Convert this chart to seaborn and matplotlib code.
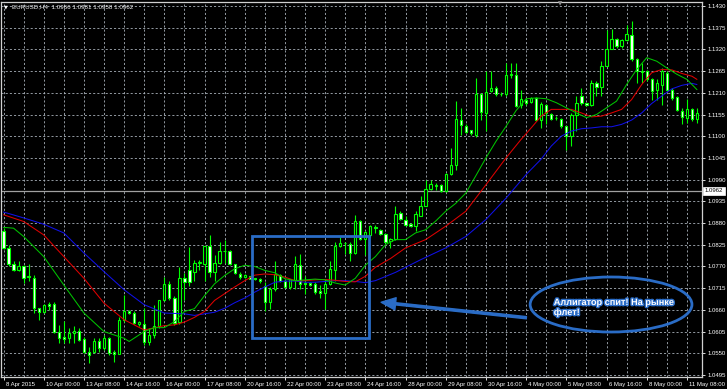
import numpy as np
import pandas as pd
import matplotlib
matplotlib.use("Agg")
import matplotlib.pyplot as plt
import matplotlib.transforms as mtransforms
import matplotlib.patheffects as pe
from matplotlib.patches import Rectangle, Ellipse, FancyArrowPatch
import seaborn as sns

# ---------------- data (EURUSD H4 candles) ----------------
opens = [1.0861, 1.0817, 1.0777, 1.0761, 1.0772, 1.0744, 1.0740, 1.0664, 1.0655, 1.0676,
         1.0675, 1.0603, 1.0590, 1.0588, 1.0601, 1.0607, 1.0586, 1.0554, 1.0554, 1.0580,
         1.0563, 1.0588, 1.0554, 1.0547, 1.0635, 1.0657, 1.0651, 1.0624, 1.0624, 1.0578,
         1.0597, 1.0618, 1.0685, 1.0725, 1.0690, 1.0629, 1.0740, 1.0760, 1.0757, 1.0779,
         1.0777, 1.0822, 1.0756, 1.0778, 1.0810, 1.0808, 1.0777, 1.0751, 1.0743, 1.0745,
         1.0740, 1.0739, 1.0720, 1.0679, 1.0713, 1.0749, 1.0734, 1.0718, 1.0735, 1.0774,
         1.0729, 1.0728, 1.0726, 1.0707, 1.0702, 1.0726, 1.0762, 1.0821, 1.0829, 1.0828,
         1.0805, 1.0884, 1.0840, 1.0850, 1.0870, 1.0863, 1.0853, 1.0834, 1.0839, 1.0905,
         1.0887, 1.0878, 1.0872, 1.0899, 1.0924, 1.0966, 1.0975, 1.0977, 1.0960, 1.1004,
         1.1026, 1.1142, 1.1127, 1.1115, 1.1102, 1.1206, 1.1159, 1.1214, 1.1223, 1.1208,
         1.1206, 1.1254, 1.1254, 1.1178, 1.1193, 1.1186, 1.1197, 1.1142, 1.1180, 1.1157,
         1.1147, 1.1144, 1.1125, 1.1100, 1.1155, 1.1202, 1.1183, 1.1178, 1.1235, 1.1225,
         1.1279, 1.1322, 1.1347, 1.1328, 1.1344, 1.1356, 1.1295, 1.1265, 1.1265, 1.1246,
         1.1216, 1.1231, 1.1261, 1.1218, 1.1200, 1.1163, 1.1146, 1.1168, 1.1144]
highs = [1.0867, 1.0825, 1.0784, 1.0784, 1.0774, 1.0776, 1.0749, 1.0664, 1.0675, 1.0681,
         1.0680, 1.0622, 1.0632, 1.0614, 1.0618, 1.0614, 1.0590, 1.0567, 1.0588, 1.0588,
         1.0596, 1.0592, 1.0558, 1.0643, 1.0698, 1.0660, 1.0656, 1.0632, 1.0664, 1.0615,
         1.0673, 1.0685, 1.0744, 1.0732, 1.0694, 1.0768, 1.0754, 1.0819, 1.0787, 1.0787,
         1.0823, 1.0849, 1.0798, 1.0832, 1.0836, 1.0811, 1.0777, 1.0755, 1.0751, 1.0747,
         1.0742, 1.0740, 1.0730, 1.0718, 1.0783, 1.0751, 1.0739, 1.0739, 1.0796, 1.0802,
         1.0747, 1.0731, 1.0730, 1.0722, 1.0739, 1.0785, 1.0832, 1.0844, 1.0832, 1.0832,
         1.0901, 1.0887, 1.0861, 1.0876, 1.0876, 1.0866, 1.0855, 1.0842, 1.0924, 1.0910,
         1.0897, 1.0880, 1.0910, 1.0949, 1.0990, 1.0990, 1.0982, 1.0980, 1.1007, 1.1070,
         1.1189, 1.1172, 1.1130, 1.1117, 1.1248, 1.1210, 1.1265, 1.1265, 1.1227, 1.1212,
         1.1286, 1.1286, 1.1286, 1.1218, 1.1197, 1.1200, 1.1200, 1.1186, 1.1181, 1.1159,
         1.1151, 1.1147, 1.1127, 1.1159, 1.1202, 1.1223, 1.1185, 1.1242, 1.1240, 1.1290,
         1.1369, 1.1371, 1.1350, 1.1347, 1.1383, 1.1392, 1.1299, 1.1286, 1.1268, 1.1248,
         1.1244, 1.1273, 1.1265, 1.1223, 1.1202, 1.1172, 1.1195, 1.1172, 1.1172]
lows = [1.0815, 1.0770, 1.0758, 1.0758, 1.0728, 1.0734, 1.0652, 1.0635, 1.0653, 1.0660,
        1.0602, 1.0575, 1.0575, 1.0575, 1.0575, 1.0580, 1.0550, 1.0525, 1.0550, 1.0554,
        1.0559, 1.0546, 1.0529, 1.0547, 1.0630, 1.0649, 1.0624, 1.0620, 1.0571, 1.0571,
        1.0588, 1.0615, 1.0683, 1.0685, 1.0621, 1.0624, 1.0684, 1.0720, 1.0734, 1.0760,
        1.0734, 1.0743, 1.0734, 1.0777, 1.0780, 1.0774, 1.0751, 1.0739, 1.0740, 1.0737,
        1.0736, 1.0728, 1.0658, 1.0663, 1.0709, 1.0730, 1.0715, 1.0714, 1.0714, 1.0712,
        1.0701, 1.0720, 1.0701, 1.0690, 1.0663, 1.0723, 1.0732, 1.0819, 1.0802, 1.0785,
        1.0802, 1.0838, 1.0798, 1.0845, 1.0855, 1.0850, 1.0829, 1.0817, 1.0836, 1.0887,
        1.0872, 1.0870, 1.0859, 1.0897, 1.0922, 1.0963, 1.0963, 1.0958, 1.0958, 1.1003,
        1.1015, 1.1104, 1.1108, 1.1102, 1.1098, 1.1141, 1.1113, 1.1212, 1.1202, 1.1203,
        1.1202, 1.1248, 1.1174, 1.1172, 1.1180, 1.1183, 1.1138, 1.1121, 1.1130, 1.1141,
        1.1141, 1.1121, 1.1066, 1.1075, 1.1113, 1.1178, 1.1176, 1.1176, 1.1202, 1.1202,
        1.1278, 1.1320, 1.1324, 1.1324, 1.1341, 1.1290, 1.1235, 1.1235, 1.1240, 1.1193,
        1.1193, 1.1178, 1.1214, 1.1193, 1.1163, 1.1130, 1.1134, 1.1138, 1.1134]
closes = [1.0817, 1.0777, 1.0761, 1.0772, 1.0742, 1.0745, 1.0664, 1.0655, 1.0673, 1.0671,
          1.0603, 1.0588, 1.0586, 1.0601, 1.0607, 1.0584, 1.0554, 1.0546, 1.0580, 1.0563,
          1.0588, 1.0550, 1.0547, 1.0635, 1.0657, 1.0651, 1.0626, 1.0628, 1.0578, 1.0597,
          1.0618, 1.0685, 1.0725, 1.0690, 1.0626, 1.0740, 1.0730, 1.0730, 1.0778, 1.0781,
          1.0822, 1.0756, 1.0778, 1.0809, 1.0808, 1.0777, 1.0754, 1.0743, 1.0749, 1.0739,
          1.0738, 1.0732, 1.0679, 1.0713, 1.0751, 1.0734, 1.0719, 1.0737, 1.0777, 1.0726,
          1.0726, 1.0723, 1.0705, 1.0702, 1.0726, 1.0764, 1.0823, 1.0829, 1.0829, 1.0805,
          1.0884, 1.0840, 1.0857, 1.0872, 1.0868, 1.0853, 1.0831, 1.0839, 1.0904, 1.0889,
          1.0876, 1.0872, 1.0904, 1.0924, 1.0966, 1.0980, 1.0977, 1.0960, 1.1004, 1.1028,
          1.1144, 1.1128, 1.1110, 1.1107, 1.1208, 1.1161, 1.1212, 1.1223, 1.1206, 1.1206,
          1.1254, 1.1257, 1.1176, 1.1195, 1.1185, 1.1196, 1.1142, 1.1182, 1.1159, 1.1144,
          1.1146, 1.1125, 1.1100, 1.1155, 1.1185, 1.1185, 1.1178, 1.1234, 1.1225, 1.1279,
          1.1322, 1.1347, 1.1328, 1.1344, 1.1358, 1.1295, 1.1265, 1.1263, 1.1246, 1.1214,
          1.1234, 1.1265, 1.1218, 1.1197, 1.1166, 1.1149, 1.1168, 1.1144, 1.1159]

# Alligator lines (bar index, price)
jaw_bars = [0, 4, 8, 12, 16, 20, 24, 28, 32, 36, 38, 40, 42, 44, 46, 48, 50, 52, 54, 56,
            58, 60, 62, 64, 66, 68, 70, 72, 74, 78, 83, 88, 92, 96, 100, 104, 107, 109, 111, 113,
            115, 117, 119, 121, 123, 125, 127, 129, 131, 133, 135, 137, 138]
jaw = [1.0908, 1.0893, 1.0877, 1.0855, 1.0804, 1.0757, 1.0711, 1.0673, 1.0652, 1.0650,
       1.0646, 1.0650, 1.0654, 1.0664, 1.0678, 1.0690, 1.0705, 1.0718, 1.0730, 1.0733,
       1.0733, 1.0730, 1.0730, 1.0732, 1.0734, 1.0734, 1.0732, 1.0729, 1.0734, 1.0755,
       1.0787, 1.0817, 1.0846, 1.0889, 1.0943, 1.1003, 1.1042, 1.1075, 1.1100, 1.1113,
       1.1119, 1.1121, 1.1124, 1.1124, 1.1130, 1.1141, 1.1159, 1.1183, 1.1202, 1.1220,
       1.1229, 1.1234, 1.1231]
teeth_bars = [0, 4, 8, 12, 16, 20, 24, 28, 32, 34, 36, 38, 40, 42, 44, 46, 48, 50, 52, 54,
              56, 58, 60, 62, 64, 66, 68, 70, 72, 74, 77, 80, 84, 88, 92, 96, 100, 103, 105, 107,
              109, 111, 113, 115, 117, 119, 121, 123, 125, 127, 129, 131, 133, 135, 137, 138]
teeth = [1.0901, 1.0884, 1.0850, 1.0795, 1.0740, 1.0677, 1.0635, 1.0609, 1.0620, 1.0622,
         1.0629, 1.0641, 1.0656, 1.0684, 1.0701, 1.0718, 1.0734, 1.0748, 1.0751, 1.0749,
         1.0743, 1.0734, 1.0734, 1.0736, 1.0737, 1.0735, 1.0732, 1.0731, 1.0745, 1.0768,
         1.0790, 1.0817, 1.0838, 1.0872, 1.0910, 1.0977, 1.1045, 1.1092, 1.1121, 1.1151,
         1.1168, 1.1168, 1.1168, 1.1159, 1.1149, 1.1151, 1.1159, 1.1168, 1.1193, 1.1231,
         1.1261, 1.1269, 1.1268, 1.1259, 1.1252, 1.1244]
lips_bars = [0, 2, 4, 8, 12, 16, 20, 24, 25, 28, 30, 32, 34, 36, 38, 40, 42, 44, 46, 48,
             50, 52, 54, 56, 58, 60, 62, 64, 66, 68, 70, 72, 74, 76, 78, 80, 82, 84, 86, 88,
             90, 92, 94, 96, 98, 100, 102, 104, 106, 108, 110, 112, 114, 116, 118, 120, 122, 124, 126, 128,
             130, 132, 134, 136, 138]
lips = [1.0869, 1.0867, 1.0846, 1.0795, 1.0723, 1.0652, 1.0605, 1.0588, 1.0580, 1.0605,
        1.0615, 1.0615, 1.0630, 1.0656, 1.0663, 1.0696, 1.0726, 1.0747, 1.0764, 1.0773,
        1.0770, 1.0760, 1.0754, 1.0739, 1.0734, 1.0736, 1.0738, 1.0736, 1.0728, 1.0723,
        1.0740, 1.0773, 1.0795, 1.0825, 1.0838, 1.0838, 1.0855, 1.0863, 1.0885, 1.0910,
        1.0930, 1.0956, 1.1000, 1.1045, 1.1087, 1.1125, 1.1165, 1.1195, 1.1197, 1.1195,
        1.1185, 1.1172, 1.1159, 1.1147, 1.1155, 1.1172, 1.1189, 1.1231, 1.1269, 1.1299,
        1.1290, 1.1273, 1.1257, 1.1244, 1.1218]

x_tick_bars = [0, 8, 16, 24, 32, 40, 48, 56, 64, 72, 80, 88, 96, 104, 112, 120, 128, 136]
x_tick_labels = ["8 Apr 2015", "10 Apr 00:00", "13 Apr 08:00", "14 Apr 16:00", "16 Apr 00:00",
                 "17 Apr 08:00", "20 Apr 16:00", "22 Apr 00:00", "23 Apr 08:00", "24 Apr 16:00",
                 "28 Apr 00:00", "29 Apr 08:00", "30 Apr 16:00", "4 May 00:00", "5 May 08:00",
                 "6 May 16:00", "8 May 00:00", "11 May 08:00"]
y_ticks = [1.0495, 1.0550, 1.0605, 1.0660, 1.0715, 1.0770, 1.0825, 1.0880, 1.0935, 1.0990,
           1.1045, 1.1100, 1.1155, 1.1210, 1.1265, 1.1320, 1.1375, 1.1430]
price_line = 1.0962
title_text = "EURUSD,H4  1.0966 1.0981 1.0958 1.0962"
note_text = "Аллигатор спит! На рынке\nфлет!"

# ---------------- style ----------------
sns.set_theme(style="dark")
plt.rcParams['font.family'] = ['Liberation Sans', 'DejaVu Sans']
plt.rcParams['axes.facecolor'] = 'black'
plt.rcParams['figure.facecolor'] = 'black'

W, H = 727, 389
fig = plt.figure(figsize=(W / 100, H / 100), dpi=100, facecolor='black')
ax = fig.add_axes([1 / W, 12 / H, 701 / W, 375 / H])
ax.set_facecolor('black')

ax.set_xlim(-0.5, 139.0)
ax.set_ylim(1.04899, 1.14401)

GRID = '#a9b1ba'
for yv in y_ticks:
    ax.axhline(yv, color=GRID, lw=0.6, ls=(0, (2.5, 2.5)), zorder=0)
for xv in range(0, 139, 4):
    ax.axvline(xv, color=GRID, lw=0.6, ls=(0, (2.5, 2.5)), zorder=0)

# price line
ax.axhline(price_line, color='#a0a0a0', lw=0.9, zorder=1)

# candles
o = np.array(opens); h = np.array(highs); l = np.array(lows); c = np.array(closes)
idx = np.arange(len(o))
bull = c >= o
LIME = '#00ff00'
ax.vlines(idx, l, h, color=LIME, lw=0.8, zorder=3)
bottom = np.minimum(o, c)
height = np.maximum(np.abs(c - o), 0.00005)
ax.bar(idx[bull], height[bull], bottom=bottom[bull], width=0.46, color='black',
       edgecolor=LIME, linewidth=0.8, zorder=4)
ax.bar(idx[~bull], height[~bull], bottom=bottom[~bull], width=0.46, color='white',
       edgecolor=LIME, linewidth=0.8, zorder=4)

# alligator lines
sns.lineplot(data=pd.DataFrame({'bar': jaw_bars, 'price': jaw}), x='bar', y='price',
             ax=ax, color='#1010e8', lw=0.75, zorder=5)
sns.lineplot(data=pd.DataFrame({'bar': teeth_bars, 'price': teeth}), x='bar', y='price',
             ax=ax, color='#e00000', lw=0.75, zorder=5)
sns.lineplot(data=pd.DataFrame({'bar': lips_bars, 'price': lips}), x='bar', y='price',
             ax=ax, color='#00c400', lw=0.75, zorder=5)

# axes, ticks
for s in ax.spines.values():
    s.set_color('#d0d0d0'); s.set_linewidth(0.9); s.set_visible(True)
ax.set_xlabel(''); ax.set_ylabel('')
ax.yaxis.tick_right()
ax.set_yticks(y_ticks)
ax.set_yticklabels([f"{v:.4f}" for v in y_ticks])
ax.set_xticks(x_tick_bars)
ax.set_xticklabels(x_tick_labels, ha='left')
ax.tick_params(axis='y', right=True, left=False, length=2.2, width=0.6, color='white',
               pad=2, labelsize=4.3, labelcolor='white')
ax.tick_params(axis='x', bottom=True, length=2.2, width=0.6, color='white',
               pad=1.5, labelsize=4.3, labelcolor='white')
off = mtransforms.ScaledTranslation(1.5 / 72, 0, fig.dpi_scale_trans)
for lab in ax.get_xticklabels():
    lab.set_transform(lab.get_transform() + off)
ax.grid(False)

# price label box
ax.text(1.004, price_line, f"{price_line:.4f}", transform=ax.get_yaxis_transform(),
        ha='left', va='center', fontsize=4.3, color='black', zorder=10, clip_on=False,
        bbox=dict(boxstyle='square,pad=0.25', fc='white', ec='white', lw=0.5))

# title
fig.text(4 / W, 1 - 6.5 / H, "▼", fontsize=3.5, color='white', va='center', ha='left',
         family=['DejaVu Sans'])
fig.text(12 / W, 1 - 6.5 / H, title_text, fontsize=4.5, color='#f0f0f0', va='center', ha='left')
fig.text(560 / W, 1 - 4 / H, "▼", fontsize=4, color='#909090', va='center', ha='center',
         family=['DejaVu Sans'])

# annotations
BLUE = '#2a6cc6'
ax.add_patch(Rectangle((49.45, 1.05887), 23.3, 1.08472 - 1.05887, fill=False,
                       ec=BLUE, lw=2.0, zorder=8))
ax.add_patch(Ellipse((120.9, 1.06736), 32.2, 0.01394, fill=False, ec=BLUE, lw=2.0, zorder=8))
ax.add_patch(FancyArrowPatch((104.6, 1.06394), (74.6, 1.06800),
                             arrowstyle='simple,head_length=1.3,head_width=1.1,tail_width=0.2',
                             mutation_scale=8, color=BLUE, zorder=8))
ax.text(109.5, 1.06660, note_text, fontsize=6.6, fontweight='bold', color='white',
        ha='left', va='center', linespacing=1.15, zorder=9,
        path_effects=[pe.withStroke(linewidth=2.0, foreground=BLUE)])

fig.savefig('out.png', dpi=100, facecolor='black')
